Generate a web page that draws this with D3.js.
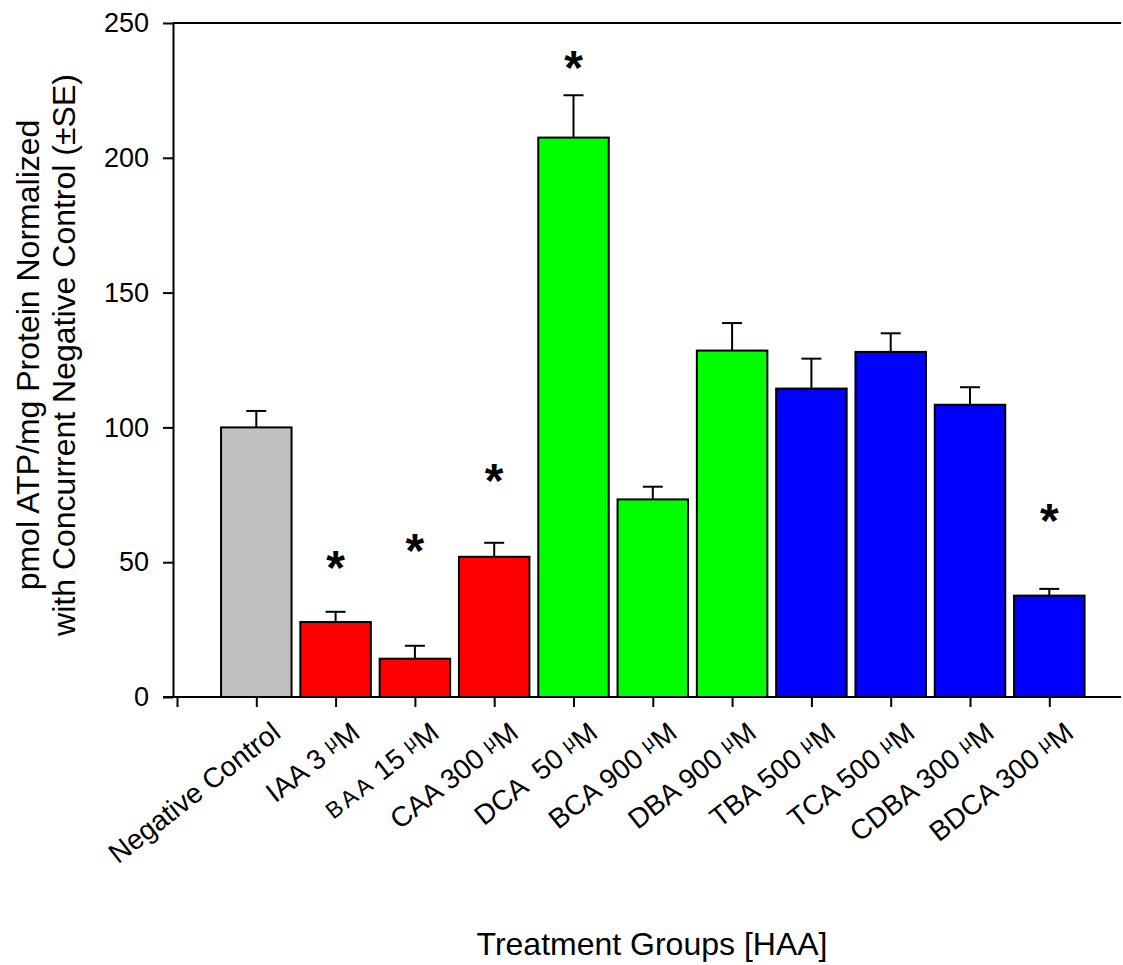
<!DOCTYPE html>
<html>
<head>
<meta charset="utf-8">
<script src="https://cdn.jsdelivr.net/npm/d3@7"></script>
<style>
  html, body { margin: 0; padding: 0; background: #fff; }
  svg { display: block; font-family: Arial, "Liberation Sans", Helvetica, sans-serif; }
  text { white-space: pre; }
</style>
</head>
<body>
<svg id="chart" width="1123" height="965"></svg>
<script>
// Treatment groups, normalized ATP values and upper standard errors
const groups = ["Negative Control", "IAA 3 μM", "BAA 15 μM", "CAA 300 μM", "DCA  50 μM",
                "BCA 900 μM", "DBA 900 μM", "TBA 500 μM", "TCA 500 μM", "CDBA 300 μM", "BDCA 300 μM"];
const means = [100, 27.8, 14.2, 52.0, 207.5, 73.3, 128.5, 114.4, 128.0, 108.4, 37.6];
const errors = [6.1, 3.8, 4.8, 5.2, 15.7, 4.7, 10.2, 11.1, 6.9, 6.5, 2.5];
const fills = ["#c0c0c0", "#ff0000", "#ff0000", "#ff0000", "#00ff00", "#00ff00", "#00ff00",
               "#0000ff", "#0000ff", "#0000ff", "#0000ff"];
// significance markers: group index and the height at which the star is centred
const starGroups = [1, 2, 3, 4, 10];
const starHeights = [50.2, 56.3, 82.2, 235.6, 67.4];
const yTicks = [0, 50, 100, 150, 200, 250];
// compound codes printed in a reduced face
const smallCodes = ["BAA"];

const svg = d3.select("#chart");
const x0 = 177, step = 79.3;
const x = d3.scaleLinear().domain([0, groups.length]).range([x0, x0 + step * groups.length]);
const y = d3.scaleLinear().domain([0, 250]).range([697, 23]);
const axisLeft = 173, axisRight = 1121;
const barW = 70.5;

// bars
svg.append("g").selectAll("rect").data(means).join("rect")
  .attr("x", (d, i) => x(i + 1) - barW / 2)
  .attr("y", d => y(d))
  .attr("width", barW)
  .attr("height", d => y(0) - y(d))
  .attr("fill", (d, i) => fills[i])
  .attr("stroke", "#000")
  .attr("stroke-width", 2);

// upper error bars
const eb = svg.append("g").attr("stroke", "#000").attr("stroke-width", 2);
means.forEach((m, i) => {
  const cx = x(i + 1);
  eb.append("line").attr("x1", cx).attr("x2", cx).attr("y1", y(m)).attr("y2", y(m + errors[i]));
  eb.append("line").attr("x1", cx - 10).attr("x2", cx + 10).attr("y1", y(m + errors[i])).attr("y2", y(m + errors[i]));
});

// significance stars
svg.append("g").selectAll("text").data(starGroups).join("text")
  .attr("x", g => x(g + 1))
  .attr("y", (g, k) => y(starHeights[k]))
  .attr("dy", "0.46em")
  .attr("text-anchor", "middle")
  .attr("font-size", 48)
  .attr("font-weight", "bold")
  .text("*");

// y axis
const yAxis = d3.axisLeft(y).tickValues(yTicks).tickSize(10).tickPadding(14).tickSizeOuter(0);
const gy = svg.append("g").attr("transform", `translate(${axisLeft},0)`).call(yAxis);
gy.select(".domain").attr("stroke-width", 2);
gy.selectAll(".tick line").attr("stroke-width", 2);
gy.selectAll(".tick text").attr("font-size", 27).attr("font-family", null).attr("fill", "#000");

// top frame line
svg.append("line").attr("x1", axisLeft).attr("x2", axisRight)
  .attr("y1", y(250)).attr("y2", y(250)).attr("stroke", "#000").attr("stroke-width", 2);

// x axis
const xAxis = d3.axisBottom(x).tickValues(d3.range(0, groups.length + 1)).tickSize(10).tickFormat("").tickSizeOuter(0);
const gx = svg.append("g").attr("transform", `translate(0,${y(0)})`).call(xAxis);
gx.select(".domain").remove();
gx.selectAll(".tick line").attr("stroke-width", 2);
svg.append("line").attr("x1", 163).attr("x2", axisRight)
  .attr("y1", y(0)).attr("y2", y(0)).attr("stroke", "#000").attr("stroke-width", 2);

// slanted category labels; "μ" and short codes drawn smaller
const labels = svg.append("g").attr("font-size", 28);
groups.forEach((g, i) => {
  const t = labels.append("text")
    .attr("transform", `translate(${x(i + 1) + 26},736) rotate(-38)`)
    .attr("text-anchor", "end");
  let rest = g;
  const code = smallCodes.find(c => rest.startsWith(c));
  if (code) {
    t.append("tspan").attr("font-size", 23).attr("letter-spacing", 3).text(code);
    rest = rest.slice(code.length);
  }
  const parts = rest.split("μ");
  parts.forEach((p, k) => {
    if (k > 0) {
      t.append("tspan").attr("font-size", 20).attr("dy", -7).text("μ");
      t.append("tspan").attr("dy", 7).text(p);
    } else {
      t.append("tspan").text(p);
    }
  });
});

// axis titles
svg.append("text").attr("transform", "translate(39,355) rotate(-90)")
  .attr("text-anchor", "middle").attr("font-size", 32)
  .text("pmol ATP/mg Protein Normalized");
svg.append("text").attr("transform", "translate(75,355) rotate(-90)")
  .attr("text-anchor", "middle").attr("font-size", 32)
  .text("with Concurrent Negative Control (±SE)");
svg.append("text").attr("x", 652).attr("y", 955)
  .attr("text-anchor", "middle").attr("font-size", 32)
  .text("Treatment Groups [HAA]");
</script>
</body>
</html>
